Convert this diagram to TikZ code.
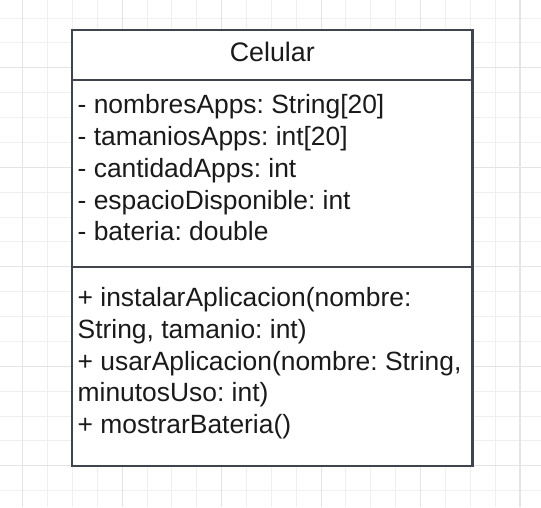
\documentclass[tikz,border=0pt]{standalone}
\usepackage{fontspec}
\setmainfont{Liberation Sans}
\frenchspacing
\definecolor{gridminor}{HTML}{EFEFEF}
\definecolor{gridmajor}{HTML}{E4E4E4}
\definecolor{boxline}{HTML}{40454D}
\definecolor{txt}{HTML}{1A1A1A}
\tikzset{
  compartment/.style={draw=boxline, line width=2.3pt, fill=white, rectangle, inner sep=0pt, minimum width=400.5pt},
  member/.style={anchor=base west, inner sep=0pt, text=txt, font=\fontsize{26.4}{31}\selectfont},
  title/.style={anchor=base, inner sep=0pt, text=txt, font=\fontsize{26.8}{31}\selectfont},
  minorgrid/.style={draw=gridminor, line width=1pt},
  majorgrid/.style={draw=gridmajor, line width=1pt}
}
\begin{document}
\begin{tikzpicture}[x=1pt,y=-1pt]
\useasboundingbox (0,0) rectangle (541,507);
\fill[white] (0,0) rectangle (541,507);
% grid
\foreach \k in {0,...,19}{
  \pgfmathsetmacro{\yy}{18+24.88*\k}
  \draw[minorgrid] (0,\yy) -- (541,\yy);
}
\foreach \k in {0,...,20}{
  \pgfmathsetmacro{\xx}{22.7+24.865*\k}
  \draw[minorgrid] (\xx,0) -- (\xx,507);
}
\foreach \k in {2,6,10,14,18}{
  \pgfmathsetmacro{\yy}{18+24.88*\k}
  \draw[majorgrid] (0,\yy) -- (541,\yy);
}
\foreach \k in {0,4,8,12,16}{
  \pgfmathsetmacro{\xx}{22.7+24.865*\k}
  \draw[majorgrid] (\xx,0) -- (\xx,507);
}
\draw[draw=gridmajor, line width=2pt] (520,0) -- (520,507);
% class box
\node[compartment, minimum height=199pt] (methods) at (272.25,366.5) {};
\node[compartment, minimum height=187pt] (attrs) at (272.25,173.5) {};
\node[compartment, minimum height=50pt] (header) at (272.25,55) {};
\node[title] (name) at (272.25,61.7) {Celular};
\node[member] (a1) at (77.5,113.3) {- nombresApps: String[20]};
\node[member] (a2) at (77.5,145.2) {- tamaniosApps: int[20]};
\node[member] (a3) at (77.5,177.1) {- cantidadApps: int};
\node[member] (a4) at (77.5,209.0) {- espacioDisponible: int};
\node[member] (a5) at (77.5,240.9) {- bateria: double};
\node[member] (m1) at (77.5,306.7) {+ instalarAplicacion(nombre:};
\node[member] (m2) at (77.5,338.4) {String, tamanio: int)};
\node[member] (m3) at (77.5,370.1) {+ usarAplicacion(nombre: String,};
\node[member] (m4) at (77.5,401.8) {minutosUso: int)};
\node[member] (m5) at (77.5,433.5) {+ mostrarBateria()};
\end{tikzpicture}
\end{document}
